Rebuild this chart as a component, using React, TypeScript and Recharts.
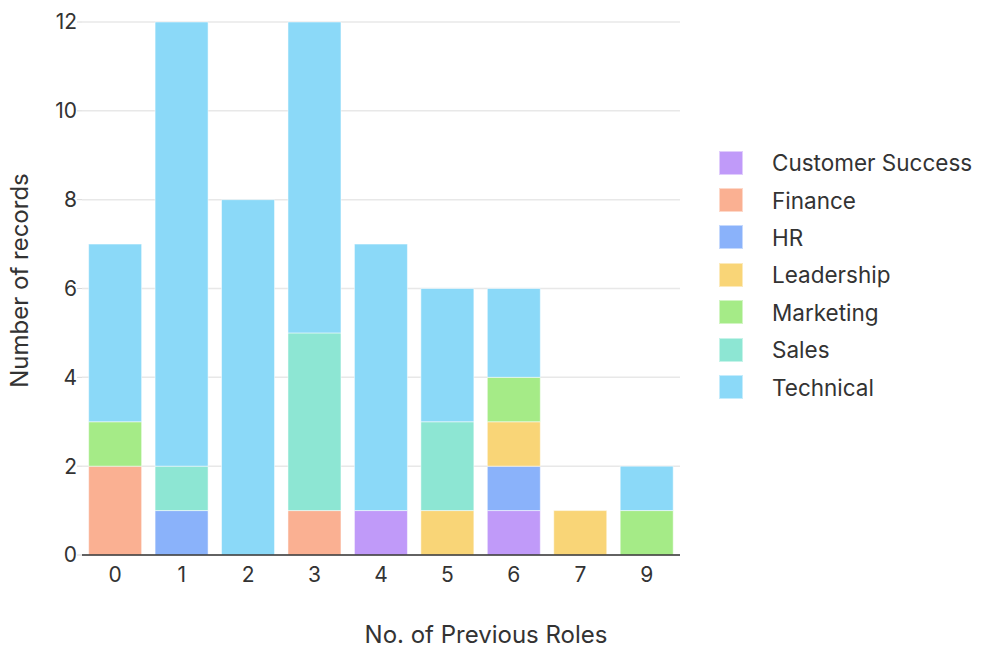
import React from "react";
import { BarChart, Bar, XAxis, YAxis, CartesianGrid, Legend } from "recharts";

// counts per department, indexed by number of previous roles
const roleCounts = ["0", "1", "2", "3", "4", "5", "6", "7", "9"];
const customerSuccess = [0, 0, 0, 0, 1, 0, 1, 0, 0];
const finance = [2, 0, 0, 1, 0, 0, 0, 0, 0];
const hr = [0, 1, 0, 0, 0, 0, 1, 0, 0];
const leadership = [0, 0, 0, 0, 0, 1, 1, 1, 0];
const marketing = [1, 0, 0, 0, 0, 0, 1, 0, 1];
const sales = [0, 1, 0, 4, 0, 2, 0, 0, 0];
const technical = [4, 10, 8, 7, 6, 3, 2, 0, 1];
const yTicks = [0, 2, 4, 6, 8, 10, 12];

const series = [
  { key: "Customer Success", values: customerSuccess, color: "#c09af9" },
  { key: "Finance", values: finance, color: "#fab092" },
  { key: "HR", values: hr, color: "#8ab2fa" },
  { key: "Leadership", values: leadership, color: "#f9d577" },
  { key: "Marketing", values: marketing, color: "#a5eb87" },
  { key: "Sales", values: sales, color: "#8de6d3" },
  { key: "Technical", values: technical, color: "#8bd9f8" },
];

const data = roleCounts.map((roles, i) => {
  const row: Record<string, string | number> = { roles };
  series.forEach((s) => {
    row[s.key] = s.values[i];
  });
  return row;
});

const textColor = "#333";

const LegendList = ({ payload }: any) => (
  <div>
    {(payload || []).map((entry: any) => (
      <div
        key={entry.value}
        style={{ display: "flex", alignItems: "center", height: 37.4 }}
      >
        <span
          style={{
            width: 24,
            height: 24,
            flexShrink: 0,
            boxSizing: "border-box",
            background: entry.color,
            border: "1px solid rgba(255,255,255,0.5)",
            marginRight: 29,
          }}
        />
        <span style={{ fontSize: 22.5, color: textColor, whiteSpace: "nowrap" }}>
          {entry.value}
        </span>
      </div>
    ))}
  </div>
);

export default function App() {
  return (
    <div
      style={{
        position: "absolute",
        left: 0,
        top: 0,
        width: 983,
        height: 650,
        background: "#fff",
        fontFamily: "Inter, 'Noto Sans', sans-serif",
      }}
    >
      <BarChart
        width={983}
        height={650}
        data={data}
        margin={{ top: 22, right: 303, bottom: 0, left: 0 }}
        barCategoryGap="10%"
      >
        <CartesianGrid vertical={false} stroke="#e8e8e8" strokeWidth={1.5} />
        <XAxis
          dataKey="roles"
          height={95}
          tickLine={false}
          axisLine={{ stroke: "#333", strokeWidth: 1.5 }}
          tickMargin={6}
          tick={{ fontSize: 21, fill: textColor }}
          label={{
            value: "No. of Previous Roles",
            position: "insideBottom",
            offset: 7,
            dx: 105,
            fontSize: 24,
            fill: textColor,
          }}
        />
        <YAxis
          width={82}
          domain={[0, 12]}
          ticks={yTicks}
          interval={0}
          axisLine={false}
          tickSize={5}
          tickMargin={0}
          tickLine={{ stroke: "#d8d8d8" }}
          tick={{ fontSize: 21, fill: textColor }}
          label={{
            value: "Number of records",
            angle: -90,
            position: "center",
            dx: -22,
            dy: -8,
            fontSize: 24,
            fill: textColor,
          }}
        />
        <Legend
          layout="vertical"
          align="center"
          verticalAlign="middle"
          wrapperStyle={{ left: 719, top: 144, width: 264 }}
          content={LegendList}
        />
        {series.map((s) => (
          <Bar
            key={s.key}
            dataKey={s.key}
            stackId="roles"
            fill={s.color}
            stroke="rgba(255,255,255,0.5)"
            strokeWidth={1}
            isAnimationActive={false}
          />
        ))}
      </BarChart>
    </div>
  );
}
